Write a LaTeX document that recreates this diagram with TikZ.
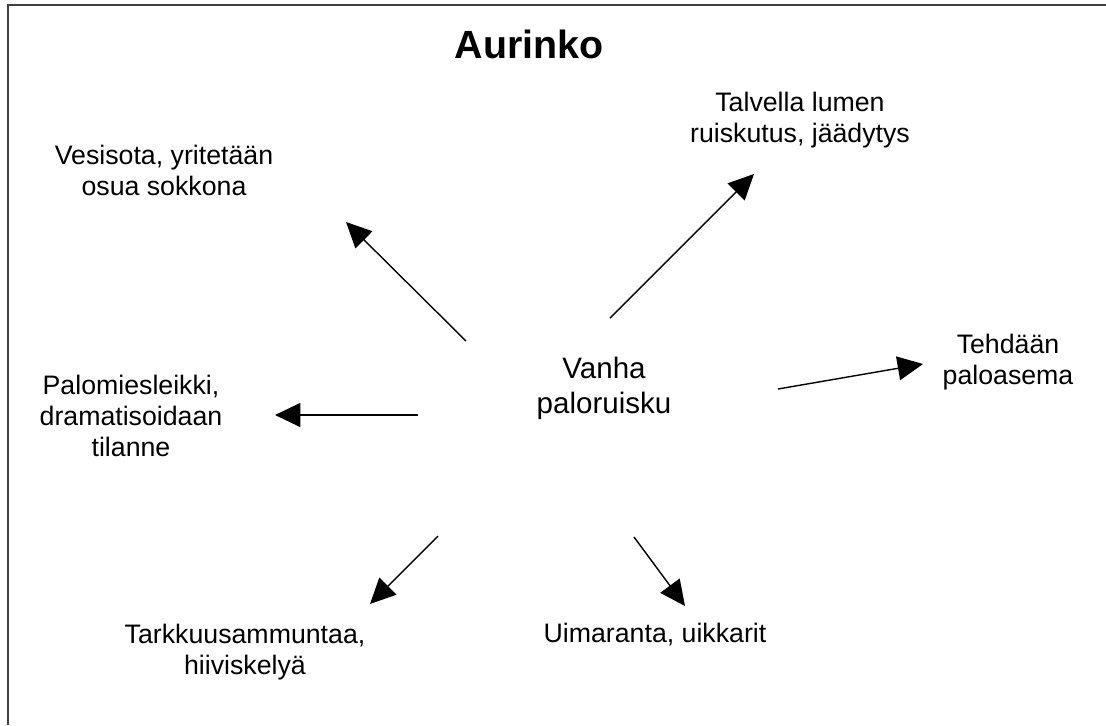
\documentclass[tikz,border=0pt]{standalone}
\usepackage{fontspec}
\setmainfont{Liberation Sans}
\usetikzlibrary{arrows.meta}
\tikzset{
  label/.style={inner sep=0pt, align=center, font=\fontsize{19}{22}\selectfont},
  idea/.style={-{Triangle[length=18pt,width=17pt]}, line width=1pt}
}
\begin{document}
\begin{tikzpicture}[x=0.025cm, y=-0.025cm]
      \useasboundingbox (0,0) rectangle (1106,725);
      \draw[line width=2pt, color=black!75] (8,725) -- (8,5) -- (1106,5);
      \draw
        (529,44) node[inner sep=0pt, font=\fontsize{28}{32}\selectfont\bfseries] (aurinko){Aurinko}
        (604,388) node[label, font=\fontsize{21}{25}\selectfont] (vanha){Vanha\\paloruisku}
        (800,120) node[label] (talvi){Talvella lumen\\ruiskutus, jäädytys}
        (164,170) node[label] (vesi){Vesisota, yritetään\\osua sokkona}
        (1008,362) node[label] (asema){Tehdään\\paloasema}
        (131,416) node[label] (leikki){Palomiesleikki,\\dramatisoidaan\\tilanne}
        (245,652) node[label] (tarkkuus){Tarkkuusammuntaa,\\hiiviskelyä}
        (655,635) node[label] (uima){Uimaranta, uikkarit};
      \coordinate (t1) at (610,318);  \coordinate (h1) at (754,174);
      \coordinate (t2) at (466,341);  \coordinate (h2) at (346,222);
      \coordinate (t3) at (418,415);  \coordinate (h3) at (275,415);
      \coordinate (t4) at (778,389);  \coordinate (h4) at (923,364);
      \coordinate (t5) at (438,536);  \coordinate (h5) at (370,604);
      \coordinate (t6) at (634,537);  \coordinate (h6) at (685,606);
      \begin{scope}[idea]
        \draw (t1) to (h1);
        \draw (t2) to (h2);
        \draw (t3) to (h3);
        \draw (t4) to (h4);
        \draw (t5) to (h5);
        \draw (t6) to (h6);
      \end{scope}
    \end{tikzpicture}
\end{document}
